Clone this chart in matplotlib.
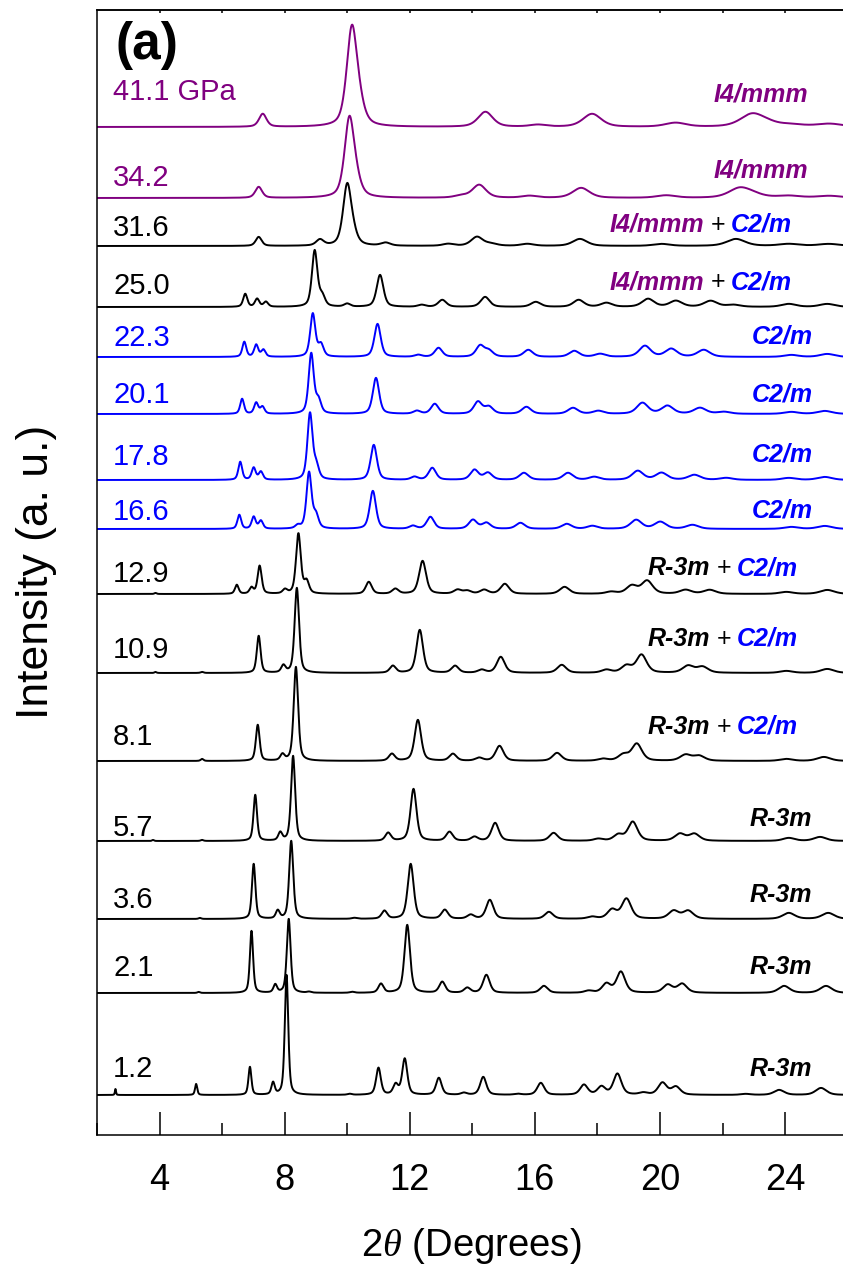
import numpy as np
import matplotlib
matplotlib.use("Agg")
import matplotlib.pyplot as plt
from matplotlib.transforms import IdentityTransform
from matplotlib.ticker import MultipleLocator

plt.rcParams['font.family'] = ['Liberation Sans', 'DejaVu Sans']
plt.rcParams['mathtext.fontset'] = 'custom'
plt.rcParams['mathtext.it'] = 'Liberation Serif:italic'
plt.rcParams['mathtext.rm'] = 'Liberation Sans'

# ---------------- data (peak positions in 2theta, peak intensities a.u.) ----------------
pressures = ["41.1 GPa", "34.2", "31.6", "25.0", "22.3", "20.1", "17.8", "16.6",
             "12.9", "10.9", "8.1", "5.7", "3.6", "2.1", "1.2"]

pos_41_1 = [7.3, 10.15, 10.4, 14.42, 16.1, 17.83, 20.5, 22.94, 23.4, 24.2, 25.42]
hgt_41_1 = [13, 97, 14, 15, 2, 13, 4, 12, 3, 2, 3]

pos_34_2 = [7.17, 10.07, 10.3, 13.64, 14.22, 15.83, 17.48, 20.2, 22.54, 22.95, 24.12, 25.42]
hgt_34_2 = [11, 78, 11, 2, 13, 2, 10, 2.5, 9, 3, 2, 2]

pos_31_6 = [7.17, 9.13, 10.0, 10.2, 11.23, 13.23, 14.15, 14.6, 15.76, 17.44, 20.05, 22.43, 24.12, 25.4]
hgt_31_6 = [9, 6, 60, 8, 3, 2, 9, 2, 2, 7, 2, 7, 2, 2]

pos_25_0 = [6.74, 7.12, 7.4, 8.96, 9.2, 10.0, 11.05, 12.38, 13.04, 14.41, 16.03, 17.4, 18.29,
            19.62, 20.51, 21.62, 22.35, 24.12, 25.35]
hgt_25_0 = [13, 8, 5, 56, 10, 3, 32, 2, 7, 10, 5, 7, 4, 8, 6, 6, 2, 3, 3]

pos_22_3 = [6.71, 7.09, 7.32, 8.9, 9.16, 10.97, 12.27, 12.92, 14.25, 14.53, 15.79, 17.26, 18.09,
            19.52, 20.36, 21.4, 24.2, 25.35]
hgt_22_3 = [15, 12, 7, 43, 12, 33, 2, 9, 11, 6, 7, 6, 3, 11, 8, 7, 2, 3]

pos_20_1 = [6.64, 7.09, 7.29, 8.85, 9.08, 10.92, 12.23, 12.8, 14.18, 14.53, 15.73, 17.22, 18.03,
            19.44, 20.24, 21.28, 22.05, 24.2, 25.27]
hgt_20_1 = [15, 11, 7, 60, 13, 36, 3, 10, 12, 7, 7, 6, 3, 11, 8, 6, 2, 2, 3]

pos_17_8 = [6.58, 7.01, 7.24, 8.81, 9.01, 10.85, 12.15, 12.72, 14.07, 14.5, 15.65, 17.06, 17.9,
            19.29, 20.05, 21.1, 22.12, 24.12, 25.27]
hgt_17_8 = [18, 12, 8, 66, 13, 35, 3, 12, 10, 7, 7, 7, 3, 9, 7, 5, 2, 2, 3]

pos_16_6 = [6.55, 7.01, 7.24, 8.42, 8.78, 9.0, 10.82, 12.1, 12.66, 14.02, 14.45, 15.54, 17.02,
            17.84, 19.24, 20.01, 21.04, 24.2, 25.27]
hgt_16_6 = [14, 12, 8, 3, 56, 13, 38, 3, 12, 9, 6, 6, 5, 3, 9, 7, 4, 2, 3]

pos_12_9 = [3.87, 6.47, 6.94, 7.2, 8.01, 8.44, 8.7, 10.69, 11.54, 12.41, 13.53, 13.84, 14.38,
            15.04, 16.95, 18.44, 19.1, 19.59, 20.82, 21.59, 24.04, 25.35]
hgt_12_9 = [1, 9, 6, 28, 4, 60, 12, 12, 5, 33, 4, 3, 4, 10, 7, 2, 8, 13, 4, 4, 2, 4]

pos_10_9 = [3.87, 5.36, 7.17, 7.96, 8.39, 11.46, 12.32, 13.45, 14.3, 14.91, 16.86, 18.29, 18.93,
            19.41, 20.9, 21.36, 24.04, 25.35]
hgt_10_9 = [1, 1, 37, 7, 85, 7, 43, 7, 3, 16, 8, 3, 7, 18, 7, 6, 2, 4]

pos_8_1 = [5.36, 7.14, 7.93, 8.36, 11.43, 12.26, 13.38, 14.22, 14.87, 16.71, 18.18, 18.83, 19.26,
           20.82, 21.25, 24.04, 25.24]
hgt_8_1 = [2, 36, 6, 94, 7, 41, 7, 3, 15, 8, 2, 6, 17, 6, 5, 2, 4]

pos_5_7 = [3.79, 5.36, 7.06, 7.86, 8.27, 11.31, 12.12, 13.27, 14.07, 14.73, 16.6, 18.03, 18.67,
           19.13, 20.64, 21.1, 24.12, 25.12]
hgt_5_7 = [1, 1, 46, 8, 85, 8, 52, 9, 4, 18, 8, 2, 6, 19, 7, 7, 3, 4]

pos_3_6 = [5.29, 7.01, 7.78, 8.21, 10.23, 11.19, 12.03, 13.12, 13.95, 14.56, 16.45, 17.83, 18.47,
           18.93, 20.44, 20.9, 24.12, 25.38]
hgt_3_6 = [1, 55, 8, 78, 1, 8, 55, 9, 4, 19, 7, 2, 9, 20, 8, 8, 6, 6]

pos_2_1 = [5.25, 6.94, 7.7, 8.13, 8.78, 10.16, 11.08, 11.92, 13.04, 13.84, 14.45, 16.29, 17.72,
           18.29, 18.75, 20.25, 20.71, 23.97, 25.31]
hgt_2_1 = [1, 62, 8, 74, 1, 1, 9, 68, 11, 5, 18, 7, 2, 9, 21, 8, 9, 7, 7]

pos_1_2 = [2.59, 5.17, 6.89, 7.63, 8.06, 10.08, 11.0, 11.55, 11.84, 12.93, 13.73, 14.35, 15.45,
           16.19, 17.57, 18.13, 18.64, 19.47, 20.08, 20.51, 22.74, 23.81, 25.15]
hgt_1_2 = [6, 11, 28, 12, 120, 1, 27, 10, 36, 17, 2, 18, 1, 12, 10, 8, 21, 2, 12, 8, 1, 5, 7]

peak_pos = [pos_41_1, pos_34_2, pos_31_6, pos_25_0, pos_22_3, pos_20_1, pos_17_8, pos_16_6,
            pos_12_9, pos_10_9, pos_8_1, pos_5_7, pos_3_6, pos_2_1, pos_1_2]
peak_hgt = [hgt_41_1, hgt_34_2, hgt_31_6, hgt_25_0, hgt_22_3, hgt_20_1, hgt_17_8, hgt_16_6,
            hgt_12_9, hgt_10_9, hgt_8_1, hgt_5_7, hgt_3_6, hgt_2_1, hgt_1_2]

phases = ["I4mmm", "I4mmm", "I4mmm+C2m", "I4mmm+C2m", "C2m", "C2m", "C2m", "C2m",
          "R3m+C2m", "R3m+C2m", "R3m+C2m", "R3m", "R3m", "R3m", "R3m"]

# ---------------- styles / layout ----------------
PURPLE = "#800080"
BLUE = "#0000FF"
BLACK = "#000000"
curve_colors = [PURPLE, PURPLE, BLACK, BLACK, BLUE, BLUE, BLUE, BLUE,
                BLACK, BLACK, BLACK, BLACK, BLACK, BLACK, BLACK]
widths = [0.31, 0.29, 0.25, 0.185, 0.175, 0.175, 0.175, 0.175, 0.17, 0.16, 0.16, 0.15, 0.15,
          0.14, 0.13]

W, H = 843, 1266
AX_L, AX_R, AX_T, AX_B = 97, 847.6, 10, 1135
base_px = [127, 198, 246, 307, 357, 414, 480, 529, 594, 673, 761, 841, 919, 993, 1095]
plabel_px = [92, 178, 228, 286, 338, 395, 457, 512, 574, 650, 737, 828, 900, 968, 1069]
phase_px = [92, 168, 223, 280, 335, 393, 452, 508, 566, 637, 725, 817, 893, 965, 1067]
phase_right = [808, 808, 792, 792, 813, 813, 813, 813, 798, 798, 798, 812, 812, 812, 812]

fig = plt.figure(figsize=(W / 100, H / 100), dpi=100)
ax = fig.add_axes([AX_L / W, (H - AX_B) / H, (AX_R - AX_L) / W, (AX_B - AX_T) / H])
ax.set_xlim(2, 26)
ax.set_ylim(0, AX_B - AX_T)

x = np.linspace(2, 26, 4000)


def pattern(pos, hgt, w0):
    y = np.zeros_like(x)
    for p, h in zip(pos, hgt):
        w = w0 * p / 8.0
        d = (x - p) / (w / 2.0)
        lor = 1.0 / (1.0 + d ** 2)
        gau = np.exp(-np.log(2) * d ** 2)
        y += h * (0.5 * lor + 0.5 * gau)
    return y


for i in range(len(pressures)):
    off = AX_B - base_px[i]
    ax.plot(x, off + pattern(peak_pos[i], peak_hgt[i], widths[i]),
            color=curve_colors[i], lw=1.4, solid_joinstyle='round')
    ax.text(2 + (113 - AX_L) / 31.27, AX_B - plabel_px[i], pressures[i],
            color=curve_colors[i], fontsize=21, ha='left', va='center')

# ---------------- phase labels ----------------
pieces = {
    "I4mmm": [("I4/mmm", PURPLE, 'bold')],
    "C2m": [("C2/m", BLUE, 'bold')],
    "R3m": [("R-3m", BLACK, 'bold')],
}


def label_pieces(key):
    out = []
    parts = key.split("+")
    for j, p in enumerate(parts):
        if j > 0:
            out.append(("+", BLACK, 'normal'))
        out.extend(pieces[p])
    return out


renderer = fig.canvas.get_renderer()
for i, key in enumerate(phases):
    xr = phase_right[i]
    yb = H - (phase_px[i] + 9)
    items = label_pieces(key)
    for s, c, wgt in reversed(items):
        style = 'normal' if s == "+" else 'italic'
        t = fig.text(xr, yb, s, color=c, fontsize=18, fontweight=wgt, fontstyle=style,
                     ha='right', va='baseline', transform=IdentityTransform())
        ext = t.get_window_extent(renderer=renderer)
        xr = ext.x0 - 6

# ---------------- axes styling ----------------
for sp in ax.spines.values():
    sp.set_linewidth(1.1)
ax.spines['right'].set_visible(False)
ax.set_yticks([])
ax.xaxis.set_minor_locator(MultipleLocator(2))
ax.set_xticks([4, 8, 12, 16, 20, 24])
ax.tick_params(axis='x', which='major', direction='in', length=16.5, width=1.1,
               labelsize=26, pad=20, top=False)
ax.tick_params(axis='x', which='minor', direction='in', length=8.6, width=1.1, top=False)

sec = ax.secondary_xaxis('top')
sec.set_xticks(np.arange(4, 26, 2))
sec.tick_params(axis='x', direction='in', length=2.5, width=1.1, labeltop=False)
sec.spines['top'].set_linewidth(1.1)

fig.text(115 / W, (H - 46) / H, "(a)", fontsize=37, fontweight='bold', ha='left', va='center')
fig.text(471 / W, (H - 1256) / H, "2$\\theta$ (Degrees)", fontsize=27.5, ha='center', va='baseline')
fig.text(37 / W, (H - 572) / H, "Intensity (a. u.)", fontsize=32, rotation=90,
         ha='center', va='center')

fig.savefig("out.png", dpi=100)
